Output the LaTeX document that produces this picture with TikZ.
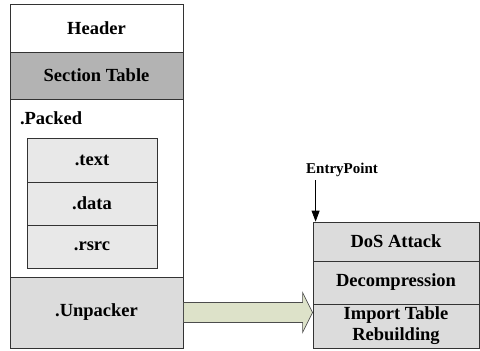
\documentclass[tikz,border=0pt]{standalone}
\usepackage{fontspec}
\setmainfont{Liberation Serif}
\usetikzlibrary{calc, arrows.meta}
\definecolor{secgray}{HTML}{B3B3B3}
\definecolor{boxgray}{HTML}{DCDCDC}
\definecolor{inngray}{HTML}{E8E8E8}
\definecolor{arrowfill}{HTML}{DDE2C9}

\begin{document}
\begin{tikzpicture}[x=1pt, y=-1pt,
	part/.style={draw=black!80, line width=0.8pt, rectangle, minimum width=173pt, font=\bfseries\fontsize{18.5}{21}\selectfont},
	sect/.style={draw=black!80, line width=0.8pt, rectangle, minimum width=130pt, fill=inngray, font=\bfseries\fontsize{18.5}{21}\selectfont},
	stub/.style={draw=black!80, line width=0.8pt, rectangle, minimum width=166pt, fill=boxgray, align=center, font=\bfseries\fontsize{18.5}{21}\selectfont}]
				\useasboundingbox (0,0) rectangle (480,351);
				\node[part, minimum height=48pt] (header)at(96.5, 28) {Header};
				\node[part, minimum height=47pt, fill=secgray] (sectab)at(96.5, 75.5) {Section Table};
				\node[part, minimum height=178pt] (packed)at(96.5, 188) {};
				\node[anchor=west, font=\bfseries\fontsize{18.5}{21}\selectfont] (packlbl)at(16.5, 118) {.Packed};
				\node[sect, minimum height=44pt] (text)at(92, 160) {.text};
				\node[sect, minimum height=43pt] (data)at(92, 203.5) {.data};
				\node[sect, minimum height=43pt] (rsrc)at(92, 246.5) {.rsrc};
				\node[part, minimum height=71pt, fill=boxgray] (unpacker)at(96.5, 312.5) {.Unpacker};
				\node[stub, minimum height=39pt] (dos)at(396, 241.5) {DoS Attack};
				\node[stub, minimum height=43pt] (decomp)at(396, 282.5) {Decompression};
				\node[stub, minimum height=44pt, inner sep=1pt] (import)at(396, 326) {Import Table\\[0pt]Rebuilding};
				\node[font=\bfseries\fontsize{15}{17}\selectfont] (entry)at(342, 170) {EntryPoint};
				\coordinate (ep) at ([xshift=3pt]dos.north west);
				\draw[-{Stealth[length=11pt, width=8pt, inset=0pt]}, line width=0.8pt] (ep |- entry.south) -- (ep);
				\draw[draw=black!70, line width=0.7pt, fill=arrowfill]
					($(unpacker.east)+(0,-10)$) -- ($(import.west |- unpacker.east)+(-10,-10)$)
					-- ($(import.west |- unpacker.east)+(-10,-20)$) -- (import.west |- unpacker.east)
					-- ($(import.west |- unpacker.east)+(-10,20)$) -- ($(import.west |- unpacker.east)+(-10,10)$)
					-- ($(unpacker.east)+(0,10)$) -- cycle;
			\end{tikzpicture}
\end{document}
